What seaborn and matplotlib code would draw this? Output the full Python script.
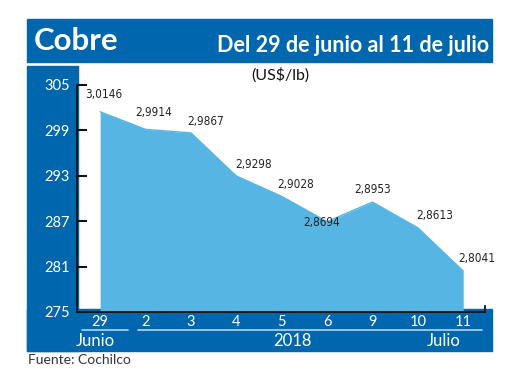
import matplotlib.pyplot as plt
from matplotlib.patches import Rectangle
from matplotlib.lines import Line2D
import seaborn as sns

dias = ['29', '2', '3', '4', '5', '6', '9', '10', '11']
valores = [301.46, 299.14, 298.67, 292.98, 290.28, 286.94, 289.53, 286.13, 280.41]
etiquetas = ['3,0146', '2,9914', '2,9867', '2,9298', '2,9028', '2,8694', '2,8953', '2,8613', '2,8041']
y_ticks = [275, 281, 287, 293, 299, 305]

azul = '#0067ae'
celeste = '#57b5e4'

sns.set_style('white')
plt.rcParams['font.family'] = ['Lato', 'DejaVu Sans']

W, H = 520, 390
fig = plt.figure(figsize=(5.2, 3.9), dpi=100)


def fx(x):
    return x / W


def fy(y):
    return 1 - y / H


# blue frame pieces, behind the axes
for x0, y0, x1, y1 in [(27, 19, 492, 62), (27, 66, 78, 351), (27, 309, 492, 351)]:
    fig.patches.append(Rectangle((fx(x0), fy(y1)), fx(x1 - x0), (y1 - y0) / H,
                                 transform=fig.transFigure, color=azul, zorder=-5))

ax = fig.add_axes([fx(77), fy(312), fx(485 - 77), (312 - 85) / H])
ax.patch.set_alpha(0)

pos = list(range(len(dias)))
sns.lineplot(x=pos, y=valores, color=celeste, lw=1, ax=ax)
ax.fill_between(pos, valores, 275, color=celeste, lw=0)

ax.set_xlim(-0.51, 8.48)
ax.set_ylim(275, 305)
ax.set_yticks(y_ticks)
ax.set_xticks(pos, dias)

ax.spines['top'].set_visible(False)
for s in ['left', 'bottom', 'right']:
    ax.spines[s].set_color('#111111')
    ax.spines[s].set_linewidth(1.3)
ax.spines['right'].set_bounds(275, 275.8)

ax.tick_params(axis='y', direction='in', length=7, width=1.5, color='#111111',
               labelcolor='white', labelsize=10.5, pad=5, left=True)
ax.tick_params(axis='x', length=0, labelcolor='white', labelsize=10.5, pad=2.5)
ax.set_xticks([5.5], minor=True)
ax.tick_params(axis='x', which='minor', direction='out', length=2, width=1.2, color='#111111')

offsets = [(4, 17), (8, 17), (15, 11), (17, 11), (14, 12), (-5, -1), (0, 13), (17, 12), (14, 13)]
for i, (txt, off) in enumerate(zip(etiquetas, offsets)):
    ax.annotate(txt, (pos[i], valores[i]), xytext=off, textcoords='offset pixels',
                ha='center', va='center', fontsize=8.5, color='#222222',
                family='DejaVu Sans', fontstretch='condensed')

# titles
fig.text(fx(34), fy(41), 'Cobre', color='white', fontsize=22.5, fontweight='bold',
         ha='left', va='center')
fig.text(fx(489), fy(46), 'Del 29 de junio al 11 de julio', color='white', fontsize=15.5,
         fontweight='bold', ha='right', va='center')
fig.text(fx(280), fy(75), '(US$/lb)', color='#111111', fontsize=11.5, ha='center', va='center')

# month labels and separators
for x0, x1 in [(82, 128), (138, 482)]:
    fig.add_artist(Line2D([fx(x0), fx(x1)], [fy(330), fy(330)], transform=fig.transFigure,
                          color='#b9d4ec', lw=1.2))
fig.text(fx(95), fy(341), 'Junio', color='white', fontsize=12, ha='center', va='center')
fig.text(fx(292), fy(341), '2018', color='white', fontsize=12, ha='center', va='center')
fig.text(fx(444), fy(341), 'Julio', color='white', fontsize=12, ha='center', va='center')

fig.text(fx(28), fy(360), 'Fuente: Cochilco', color='#333333', fontsize=10, ha='left', va='center')

fig.savefig('out.png', dpi=100)
